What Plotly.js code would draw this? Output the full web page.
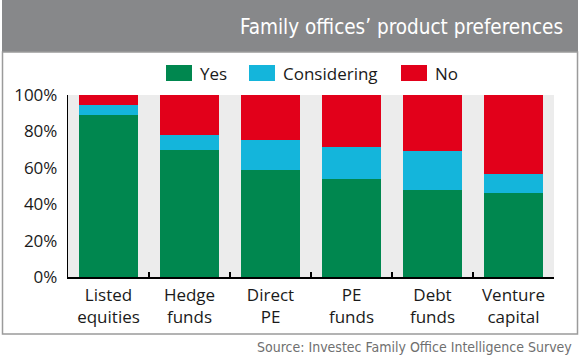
<!DOCTYPE html>
<html>
<head>
<meta charset="utf-8">
<script src="https://cdn.plot.ly/plotly-3.0.1.min.js"></script>
<style>
html,body{margin:0;padding:0;background:#fff;}
#chart{width:580px;height:358px;}
</style>
</head>
<body>
<div id="chart"></div>
<script>
// ---- data ----
const categories = ["Listed<br>equities", "Hedge<br>funds", "Direct<br>PE", "PE<br>funds", "Debt<br>funds", "Venture<br>capital"];
const seriesNames = ["Yes", "Considering", "No"];
const yesValues = [89, 70, 59, 54, 48, 46];
const consideringValues = [5.5, 8, 16.5, 17.5, 21, 10.5];
const noValues = [5.5, 22, 24.5, 28.5, 31, 43.5];
const yTickValues = [0, 20, 40, 60, 80, 100];
const yTickLabels = ["0%", "20%", "40%", "60%", "80%", "100%"];
const titleText = "Family offices’ product preferences";
const sourceText = "Source: Investec Family Office Intelligence Survey";

// ---- styles ----
const colors = ["#00874f", "#14b5db", "#e2001a"];
const W = 580, H = 358;
const M = {l: 68, r: 26, t: 95, b: 81};
const PW = W - M.l - M.r, PH = H - M.t - M.b;
const px = v => (v - M.l) / PW;
const py = v => (H - M.b - v) / PH;
const tickFont = {family: "'Open Sans', 'Noto Sans', sans-serif", size: 17, color: "#1a1a1a"};
const condFont = "'DejaVu Sans Condensed', 'Liberation Sans Narrow', Roboto, sans-serif";

const seriesValues = [yesValues, consideringValues, noValues];
const traces = seriesValues.map((vals, i) => ({
  type: "bar",
  x: categories,
  y: vals,
  name: seriesNames[i],
  marker: {color: colors[i], line: {width: 0}},
  showlegend: false,
  hoverinfo: "skip"
}));

const shapes = [
  // header band
  {type: "rect", xref: "paper", yref: "paper", x0: px(2), x1: px(578), y0: py(52), y1: py(0),
   fillcolor: "#87888a", line: {width: 0}, layer: "below"},
  // white frame
  {type: "rect", xref: "paper", yref: "paper", x0: px(2.5), x1: px(577.5), y0: py(334), y1: py(52),
   fillcolor: "rgba(0,0,0,0)", line: {color: "#9b9b9b", width: 1.5}, layer: "below"}
];
const annotations = [
  {text: titleText, xref: "paper", yref: "paper", x: px(565), y: py(27), xanchor: "right", yanchor: "middle",
   showarrow: false, font: {family: condFont, size: 20.5, color: "#ffffff"}},
  {text: sourceText, xref: "paper", yref: "paper", x: px(574), y: py(347), xanchor: "right", yanchor: "middle",
   showarrow: false, font: {family: condFont, size: 14, color: "#6f6f6f"}}
];
// manual legend
const swatchX = [166, 249, 401];
seriesNames.forEach((n, i) => {
  shapes.push({type: "rect", xref: "paper", yref: "paper", x0: px(swatchX[i]), x1: px(swatchX[i] + 26),
    y0: py(81), y1: py(65), fillcolor: colors[i], line: {width: 0}});
  annotations.push({text: n, xref: "paper", yref: "paper", x: px(swatchX[i] + 32), y: py(73),
    xanchor: "left", yanchor: "middle", showarrow: false, font: tickFont});
});

const layout = {
  width: W, height: H,
  margin: M,
  paper_bgcolor: "#ffffff",
  plot_bgcolor: "#ececec",
  barmode: "stack",
  bargap: 0.27,
  showlegend: false,
  xaxis: {
    type: "category",
    tickson: "boundaries",
    ticks: "inside", ticklen: 5, tickwidth: 1.2, tickcolor: "#000",
    showline: true, linecolor: "#000", linewidth: 1.5,
    showgrid: false, zeroline: false,
    tickfont: tickFont,
    ticklabelstandoff: 2,
    fixedrange: true
  },
  yaxis: {
    range: [0, 100],
    tickvals: yTickValues, ticktext: yTickLabels,
    ticks: "", showline: true, linecolor: "#000", linewidth: 1.2,
    showgrid: false, zeroline: false,
    tickfont: tickFont,
    ticklabelstandoff: 6,
    fixedrange: true
  },
  shapes: shapes,
  annotations: annotations
};

Plotly.newPlot("chart", traces, layout, {displayModeBar: false, staticPlot: true});
</script>
</body>
</html>
